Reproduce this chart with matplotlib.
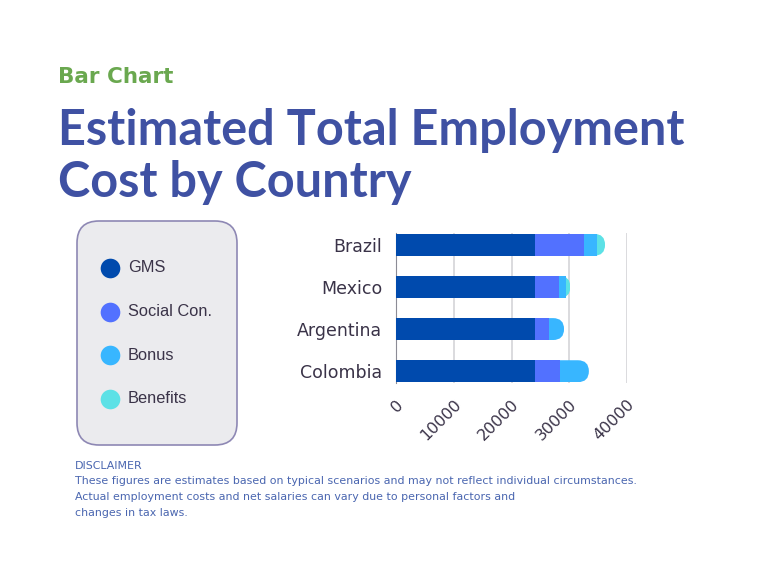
import numpy as np
import matplotlib
matplotlib.use("Agg")
import matplotlib.pyplot as plt
from matplotlib.patches import FancyBboxPatch

# data
countries = ["Brazil", "Mexico", "Argentina", "Colombia"]
series = ["GMS", "Social Con.", "Bonus", "Benefits"]
gms = [24000, 24000, 24000, 24000]
social = [8500, 4300, 2500, 4400]
bonus = [2300, 1100, 2600, 5000]
benefits = [1400, 800, 0, 0]
xticks = [0, 10000, 20000, 30000, 40000]

colors = ["#004AAD", "#5271FF", "#38B6FF", "#5CE1E6"]
title_col = "#3F51A3"
green = "#6AA84F"
text_col = "#3A3348"

fig = plt.figure(figsize=(7.68, 5.76), dpi=100)
fig.patch.set_facecolor("white")

# header texts
fig.text(58/768, 1 - 83/576, "Bar Chart", fontsize=15.5, color=green,
         fontweight="bold", family="DejaVu Sans")
fig.text(58/768, 1 - 145/576, "Estimated Total Employment", fontsize=35,
         color=title_col, fontweight="bold", family="Lato")
fig.text(58/768, 1 - 197/576, "Cost by Country", fontsize=35,
         color=title_col, fontweight="bold", family="Lato")

# legend panel
lax = fig.add_axes([0, 0, 1, 1])
lax.set_xlim(0, 768)
lax.set_ylim(576, 0)
lax.axis("off")
box = FancyBboxPatch((77, 221), 160, 224, boxstyle="round,pad=0,rounding_size=22",
                     facecolor="#EBEBEE", edgecolor="#8E88B4", linewidth=1.2)
lax.add_patch(box)
for i, (name, c) in enumerate(zip(series, colors)):
    y = 268 + i * 43.5
    lax.scatter([110], [y], s=200, color=c, zorder=3, linewidths=0)
    lax.text(128, y, name, fontsize=11.8, color=text_col, va="center",
             family="Liberation Sans")

# disclaimer
disc = ["DISCLAIMER",
        "These figures are estimates based on typical scenarios and may not reflect individual circumstances.",
        "Actual employment costs and net salaries can vary due to personal factors and",
        "changes in tax laws."]
for i, line in enumerate(disc):
    lax.text(75, 466 + i * 15.5, line, fontsize=7.9, color="#4A66B0",
             va="center", family="DejaVu Sans")

# bar chart
ax = fig.add_axes([396/768, 1 - 383/576, 231/768, 150/576])
y = np.arange(len(countries))
bh = 0.52
segs = [gms, social, bonus, benefits]
left = np.zeros(len(countries))
totals = np.sum(segs, axis=0)
bars_by_row = {i: [] for i in range(len(countries))}
for vals, c in zip(segs, colors):
    bc = ax.barh(y, vals, left=left, height=bh, color=c, zorder=3)
    for i, (b, v) in enumerate(zip(bc, vals)):
        if v > 0:
            bars_by_row[i].append(b)
    left += np.array(vals)

ax.set_xlim(0, 40000)
ax.set_ylim(3.28, -0.28)
fig.canvas.draw()

# rounded right ends
px_per_x = ax.transData.transform((1, 0))[0] - ax.transData.transform((0, 0))[0]
px_per_y = abs(ax.transData.transform((0, 1))[1] - ax.transData.transform((0, 0))[1])
aspect = px_per_x / px_per_y
r = (bh * px_per_y / 2) / px_per_x
for i in range(len(countries)):
    clip = FancyBboxPatch((0, y[i] - bh/2), totals[i], bh,
                          boxstyle="round,pad=0,rounding_size=%f" % r,
                          mutation_aspect=aspect, transform=ax.transData,
                          facecolor="none", edgecolor="none")
    ax.add_patch(clip)
    bars_by_row[i][-1].set_clip_path(clip)

ax.set_xticks(xticks)
ax.set_xticklabels([str(t) for t in xticks], rotation=45, fontsize=11.5,
                   color=text_col, family="DejaVu Sans",
                   ha="right", va="top", rotation_mode="anchor")
ax.set_yticks(y)
ax.set_yticklabels(countries, fontsize=12.5, color=text_col, family="DejaVu Sans")
ax.tick_params(length=0)
ax.tick_params(axis="y", pad=10)
ax.tick_params(axis="x", pad=10)
ax.grid(axis="x", color="#D4D4D8", linewidth=1.2, zorder=0)
for s in ["top", "right", "bottom"]:
    ax.spines[s].set_visible(False)
ax.spines["left"].set_color("#8C8C96")
ax.spines["left"].set_linewidth(0.8)

fig.savefig("out.png", dpi=100, facecolor="white")
